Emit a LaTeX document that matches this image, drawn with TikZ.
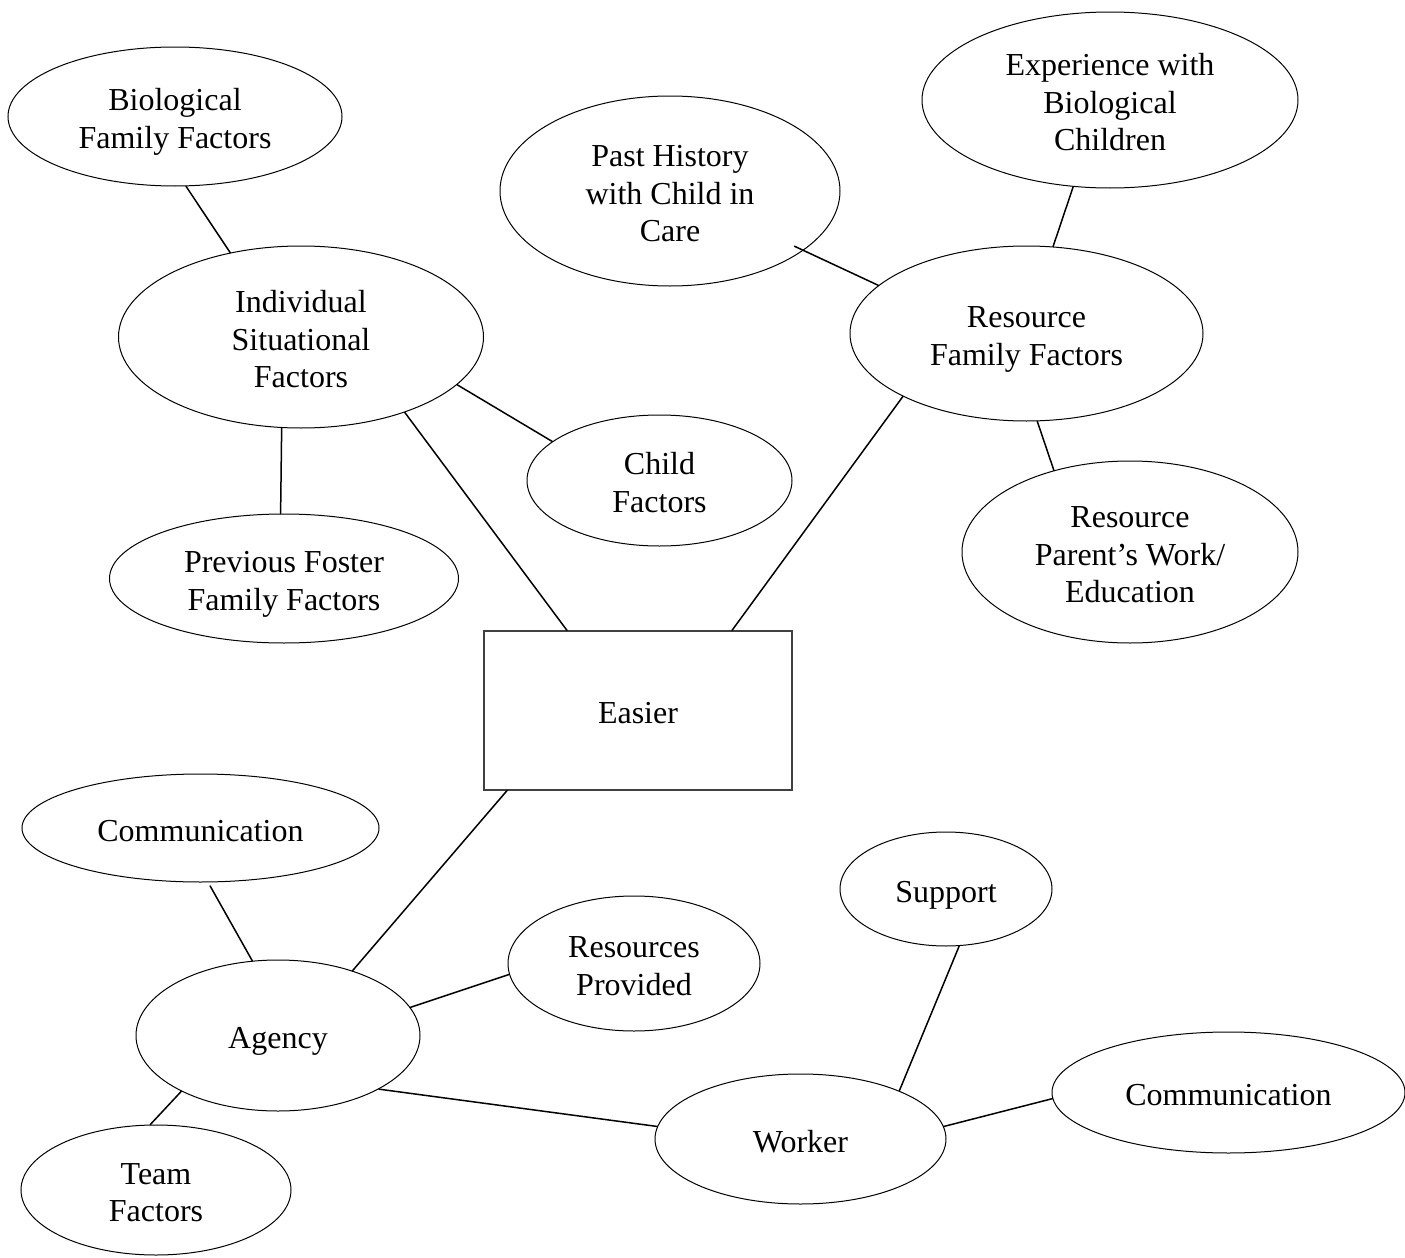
\documentclass[tikz,border=0pt]{standalone}
\usepackage{fontspec}
\setmainfont{Liberation Serif}
\usetikzlibrary{shapes.geometric}
\newcommand\nodetext[1]{\raisebox{-2.8pt}[\height][\depth]{\begin{tabular}{@{}c@{}}#1\end{tabular}}}
\begin{document}
\begin{tikzpicture}[x=0.5pt,y=-0.5pt,
  oval/.style={ellipse, draw=black, line width=0.5pt, inner sep=0pt,
               font=\fontsize{16}{18.75}\selectfont},
  box/.style={rectangle, draw=black!75, line width=0.6pt, inner sep=0pt,
               font=\fontsize{16}{18.75}\selectfont},
  link/.style={line width=0.75pt, line cap=round}]
\useasboundingbox (0,0) rectangle (1405,1258);

% nodes
\node[oval, minimum width=167pt, minimum height=69.5pt] (bio) at (175,116.5) {\nodetext{Biological\\Family Factors}};
\node[oval, minimum width=182.5pt, minimum height=91pt] (ind) at (301,337) {\nodetext{Individual\\Situational\\Factors}};
\node[oval, minimum width=174.5pt, minimum height=64.5pt] (prev) at (284,578.5) {\nodetext{Previous Foster\\Family Factors}};
\node[oval, minimum width=132.5pt, minimum height=65.5pt] (child) at (659.5,480.5) {\nodetext{Child\\Factors}};
\node[oval, minimum width=170pt, minimum height=95pt] (past) at (670,191) {\nodetext{Past History\\with Child in\\Care}};
\node[oval, minimum width=188pt, minimum height=88pt] (exp) at (1110,100) {\nodetext{Experience with\\Biological\\Children}};
\node[oval, minimum width=176.5pt, minimum height=87.5pt] (rf) at (1026.5,333.5) {\nodetext{Resource\\Family Factors}};
\node[oval, minimum width=168pt, minimum height=91pt] (rp) at (1130,552) {\nodetext{Resource\\Parent’s Work/\\Education}};
\node[box, minimum width=154pt, minimum height=79.5pt] (easier) at (638,710.5) {\nodetext{Easier}};
\node[oval, minimum width=178.5pt, minimum height=54pt] (comma) at (200.5,828) {\nodetext{Communication}};
\node[oval, minimum width=142pt, minimum height=75.5pt] (agency) at (278,1035.5) {\nodetext{Agency}};
\node[oval, minimum width=126pt, minimum height=67.5pt] (resprov) at (634,963.5) {\nodetext{Resources\\Provided}};
\node[oval, minimum width=135pt, minimum height=65pt] (team) at (156,1190) {\nodetext{Team\\Factors}};
\node[oval, minimum width=106pt, minimum height=57pt] (support) at (946,889) {\nodetext{Support}};
\node[oval, minimum width=145.5pt, minimum height=65pt] (worker) at (800.5,1139) {\nodetext{Worker}};
\node[oval, minimum width=176.5pt, minimum height=60.5pt] (commb) at (1228.5,1092.5) {\nodetext{Communication}};

% connectors
\draw[link] (bio.-81.9) -- (ind.130.9);
\draw[link] (ind.-102.7) -- (prev.93.5);
\draw[link] (ind.-17) -- (child.160.9);
\draw[link] (ind.-36.5) -- ([xshift=-35.5pt]easier.north);
\draw[link, shorten <=-5pt] (past.-24.7) -- (rf.162.3);
\draw[link] (exp.-113.4) -- (rf.73.6);
\draw[link] (rf.-83.9) -- (rp.133.6);
\draw[link] (rf.-153.5) -- ([xshift=47pt]easier.north);
\draw[link] ([xshift=-65.5pt]easier.south) -- (agency.41.1);
\draw[link, shorten <=2pt] (comma.-82.6) -- (agency.109);
\draw[link] (agency.12.3) -- (resprov.-175.3);
\draw[link] (agency.-150.2) -- (team.95.3);
\draw[link] (agency.-28.6) -- (worker.175.3);
\draw[link] (worker.26.2) -- (support.-77.9);
\draw[link] (worker.5.1) -- (commb.-178.2);
\end{tikzpicture}
\end{document}
